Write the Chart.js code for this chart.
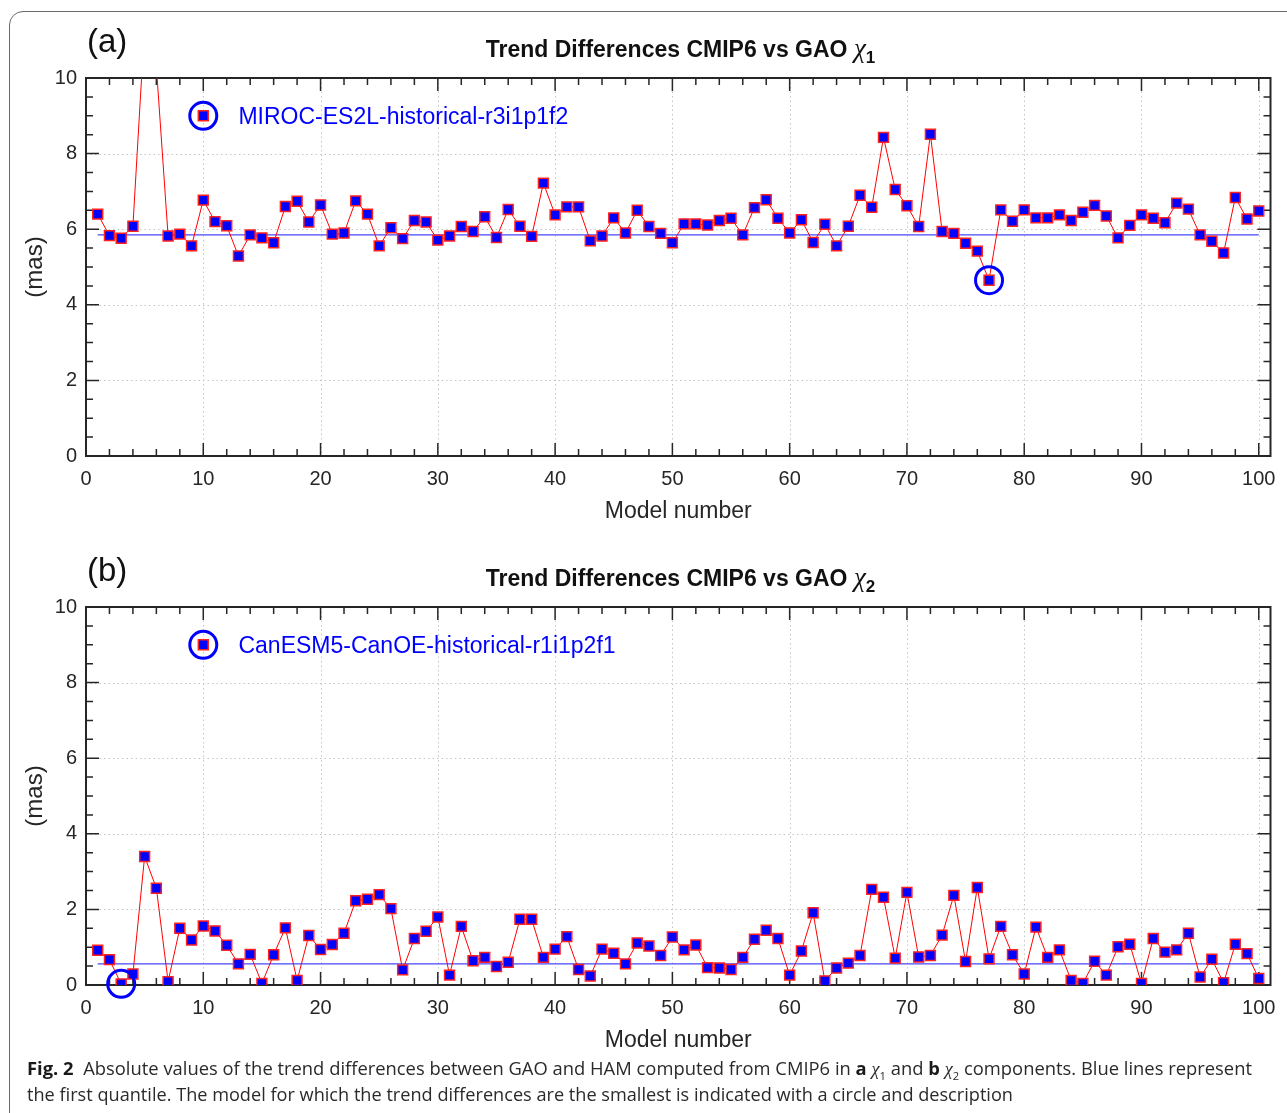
<!DOCTYPE html>
<html>
<head>
<meta charset="utf-8">
<script src="https://cdn.jsdelivr.net/npm/chart.js@4.4.1/dist/chart.umd.min.js"></script>
<style>
  body { margin: 0; background: #fff; width: 1287px; height: 1113px; overflow: hidden; position: relative;
         font-family: "Liberation Sans", Arial, sans-serif; color: #111; }
  .frame { position: absolute; left: 9px; top: 11px; width: 1320px; height: 1140px; border: 1px solid #6a6a6a;
           border-radius: 14px; box-sizing: border-box; }
  .panel { position: absolute; left: 0; width: 1287px; height: 540px; }
  .panel canvas { position: absolute; left: 0; top: 0; }
  .tag { position: absolute; left: 87px; top: 22px; font-size: 33px; color: #111; }
  .title { position: absolute; left: 86px; width: 1189px; top: 33px; text-align: center; font-weight: bold;
           font-size: 23px; color: #111; white-space: nowrap; }
  .chi { font-family: "Liberation Serif", serif; font-style: italic; font-weight: normal; font-size: 27px; }
  .title sub { font-size: 17px; vertical-align: -6px; }
  .caption { position: absolute; left: 27px; top: 1055px; font-family: "Open Sans", sans-serif; font-size: 18px;
             color: #2a2a2a; line-height: 26px; }
  .caption div { white-space: nowrap; transform-origin: 0 0; display: block; width: max-content; height: 26px; }
  .caption b { color: #1a1a1a; }
  .caption i { font-family: "Liberation Serif", serif; }
  .caption sub { font-size: 11px; line-height: 0; }
</style>
</head>
<body>
<div class="frame"></div>

<div class="panel" style="top:0">
  <canvas id="cht-chi1" width="1287" height="540"></canvas>
  <div class="tag">(a)</div>
  <div class="title">Trend Differences CMIP6 vs GAO <span class="chi">χ</span><sub>1</sub></div>
</div>

<div class="panel" style="top:529px">
  <canvas id="cht-chi2" width="1287" height="540"></canvas>
  <div class="tag">(b)</div>
  <div class="title">Trend Differences CMIP6 vs GAO <span class="chi">χ</span><sub>2</sub></div>
</div>

<div class="caption">
  <div id="cap1"><b>Fig. 2</b>&nbsp; Absolute values of the trend differences between GAO and HAM computed from CMIP6 in <b>a</b> <i>χ</i><sub>1</sub> and <b>b</b> <i>χ</i><sub>2</sub> components. Blue lines represent</div>
  <div id="cap2">the first quantile. The model for which the trend differences are the smallest is indicated with a circle and description</div>
</div>

<script>
// model index on the x axis
var modelNumbers = Array.from({ length: 100 }, function (_, i) { return i + 1; });

// |trend GAO - trend HAM| for chi1 (mas)
var chi1Diff = [
  6.40, 5.83, 5.76, 6.08, 11.4, 10.3, 5.82, 5.87, 5.56, 6.77,
  6.20, 6.09, 5.29, 5.85, 5.77, 5.64, 6.60, 6.74, 6.19, 6.64,
  5.87, 5.90, 6.75, 6.40, 5.56, 6.04, 5.75, 6.23, 6.19, 5.71,
  5.82, 6.07, 5.94, 6.33, 5.78, 6.52, 6.08, 5.81, 7.22, 6.38,
  6.59, 6.59, 5.69, 5.82, 6.30, 5.90, 6.50, 6.07, 5.89, 5.64,
  6.14, 6.14, 6.11, 6.23, 6.29, 5.85, 6.57, 6.78, 6.29, 5.90,
  6.25, 5.65, 6.13, 5.56, 6.08, 6.90, 6.58, 8.43, 7.05, 6.62,
  6.07, 8.51, 5.94, 5.89, 5.63, 5.42, 4.65, 6.51, 6.21, 6.51,
  6.30, 6.30, 6.38, 6.23, 6.45, 6.63, 6.35, 5.77, 6.10, 6.38,
  6.29, 6.17, 6.69, 6.53, 5.85, 5.68, 5.37, 6.84, 6.27, 6.48
];

// same for chi2
var chi2Diff = [
  0.92, 0.67, 0.03, 0.29, 3.40, 2.56, 0.09, 1.50, 1.19, 1.56,
  1.43, 1.05, 0.56, 0.81, 0.04, 0.80, 1.51, 0.12, 1.31, 0.94,
  1.07, 1.37, 2.23, 2.27, 2.39, 2.02, 0.40, 1.23, 1.42, 1.80,
  0.26, 1.55, 0.64, 0.73, 0.49, 0.60, 1.74, 1.74, 0.73, 0.95,
  1.28, 0.41, 0.24, 0.95, 0.84, 0.56, 1.11, 1.03, 0.78, 1.27,
  0.93, 1.06, 0.46, 0.45, 0.41, 0.73, 1.21, 1.45, 1.23, 0.26,
  0.90, 1.91, 0.11, 0.45, 0.58, 0.78, 2.53, 2.32, 0.71, 2.45,
  0.74, 0.78, 1.32, 2.37, 0.62, 2.58, 0.69, 1.55, 0.80, 0.29,
  1.53, 0.73, 0.93, 0.12, 0.04, 0.63, 0.26, 1.01, 1.08, 0.04,
  1.23, 0.87, 0.93, 1.37, 0.21, 0.68, 0.06, 1.08, 0.83, 0.17
];

var chi1Quantile = 5.85;
var chi2Quantile = 0.56;

var chi1Best = 77;
var chi2Best = 3;
var chi1BestName = 'MIROC-ES2L-historical-r3i1p1f2';
var chi2BestName = 'CanESM5-CanOE-historical-r1i1p2f1';

var xTicks = [0, 10, 20, 30, 40, 50, 60, 70, 80, 90, 100];
var yTicks = [0, 2, 4, 6, 8, 10];

// legend marker spot and where its text starts
var noteMarker = { x: 10, y: 9 };
var noteTextX = 13;

var axisColour = '#262626';
var tickFont = { family: 'Liberation Sans', size: 20 };

// MATLAB-ish box: dotted grid, full frame, ticks pointing in
var matlabAxes = {
  id: 'matlabAxes',
  beforeDatasetsDraw: function (chart) {
    var ctx = chart.ctx, a = chart.chartArea;
    var xs = chart.scales.x, ys = chart.scales.y;
    ctx.save();
    ctx.strokeStyle = '#c4c4c4';
    ctx.lineWidth = 1;
    ctx.setLineDash([1.5, 3]);
    xTicks.forEach(function (v) {
      var px = Math.round(xs.getPixelForValue(v)) + 0.5;
      ctx.beginPath(); ctx.moveTo(px, a.top); ctx.lineTo(px, a.bottom); ctx.stroke();
    });
    yTicks.forEach(function (v) {
      var py = Math.round(ys.getPixelForValue(v)) + 0.5;
      ctx.beginPath(); ctx.moveTo(a.left, py); ctx.lineTo(a.right, py); ctx.stroke();
    });
    ctx.setLineDash([]);
    ctx.strokeStyle = axisColour;
    ctx.lineWidth = 1.5;
    var v, len, p;
    for (v = 0; v <= 100; v += 2) {
      len = (v % 10 === 0) ? 13 : 7;
      p = xs.getPixelForValue(v);
      ctx.beginPath();
      ctx.moveTo(p, a.top); ctx.lineTo(p, a.top + len);
      ctx.moveTo(p, a.bottom); ctx.lineTo(p, a.bottom - len);
      ctx.stroke();
    }
    for (v = 0; v <= 10; v += 0.5) {
      len = (v % 2 === 0) ? 13 : 7;
      p = ys.getPixelForValue(v);
      ctx.beginPath();
      ctx.moveTo(a.left, p); ctx.lineTo(a.left + len, p);
      ctx.moveTo(a.right, p); ctx.lineTo(a.right - len, p);
      ctx.stroke();
    }
    ctx.lineWidth = 2;
    ctx.strokeRect(a.left, a.top, a.right - a.left, a.bottom - a.top);
    ctx.restore();
  },
  afterDatasetsDraw: function (chart, args, opts) {
    var ctx = chart.ctx;
    ctx.save();
    ctx.font = '23px "Liberation Sans"';
    ctx.fillStyle = '#0000ff';
    ctx.textBaseline = 'middle';
    ctx.fillText(opts.text, chart.scales.x.getPixelForValue(noteTextX), chart.scales.y.getPixelForValue(noteMarker.y) + 2);
    ctx.restore();
  }
};

function makePanel(id, values, quantile, best, bestName) {
  var pts = modelNumbers.map(function (n, i) { return { x: n, y: values[i] }; });
  var marker = {
    pointStyle: 'rect', pointRadius: 7, pointHoverRadius: 7,
    pointBackgroundColor: '#0000ff', pointBorderColor: '#ff2020', pointBorderWidth: 1.5
  };
  return new Chart(document.getElementById(id), {
    type: 'line',
    data: {
      datasets: [
        { data: [{ x: best, y: values[best - 1] }, noteMarker], showLine: false, clip: false,
          pointStyle: 'circle', pointRadius: 13.5, pointBorderColor: '#0000ff', pointBorderWidth: 3,
          pointBackgroundColor: 'rgba(0,0,0,0)' },
        Object.assign({ data: pts, borderColor: '#ff0000', borderWidth: 1 }, marker),
        Object.assign({ data: [noteMarker], showLine: false }, marker),
        { data: [{ x: 1, y: quantile }, { x: 100, y: quantile }], borderColor: '#4646ff', borderWidth: 1.3, pointRadius: 0 }
      ]
    },
    options: {
      responsive: false,
      animation: false,
      devicePixelRatio: 1,
      layout: { padding: { top: 78, right: 12, left: 0, bottom: 0 } },
      plugins: { legend: { display: false }, tooltip: { enabled: false }, matlabAxes: { text: bestName } },
      scales: {
        x: {
          type: 'linear', min: 0, max: 101,
          afterBuildTicks: function (s) { s.ticks = xTicks.map(function (v) { return { value: v }; }); },
          afterFit: function (s) { s.height = 84; s.paddingLeft = 0; s.paddingRight = 0; },
          grid: { display: false, drawTicks: false }, border: { display: false },
          ticks: { font: tickFont, color: axisColour, padding: 11, maxRotation: 0, autoSkip: false },
          title: { display: true, text: 'Model number', color: axisColour,
                   font: { family: 'Liberation Sans', size: 23 }, padding: { top: 0, bottom: 15 } }
        },
        y: {
          min: 0, max: 10,
          afterBuildTicks: function (s) { s.ticks = yTicks.map(function (v) { return { value: v }; }); },
          afterFit: function (s) { s.width = 86; s.paddingTop = 0; s.paddingBottom = 0; },
          grid: { display: false, drawTicks: false }, border: { display: false },
          ticks: { font: tickFont, color: axisColour, padding: 9 },
          title: { display: true, text: '(mas)', color: axisColour,
                   font: { family: 'Liberation Sans', size: 24 }, padding: { top: 21, bottom: 0 } }
        }
      }
    },
    plugins: [matlabAxes]
  });
}

makePanel('cht-chi1', chi1Diff, chi1Quantile, chi1Best, chi1BestName);
makePanel('cht-chi2', chi2Diff, chi2Quantile, chi2Best, chi2BestName);

// squeeze caption lines to the reference widths
[['cap1', 1225], ['cap2', 986]].forEach(function (c) {
  var el = document.getElementById(c[0]);
  var w = el.getBoundingClientRect().width;
  el.style.transform = 'scaleX(' + (c[1] / w) + ')';
});
</script>
</body>
</html>
